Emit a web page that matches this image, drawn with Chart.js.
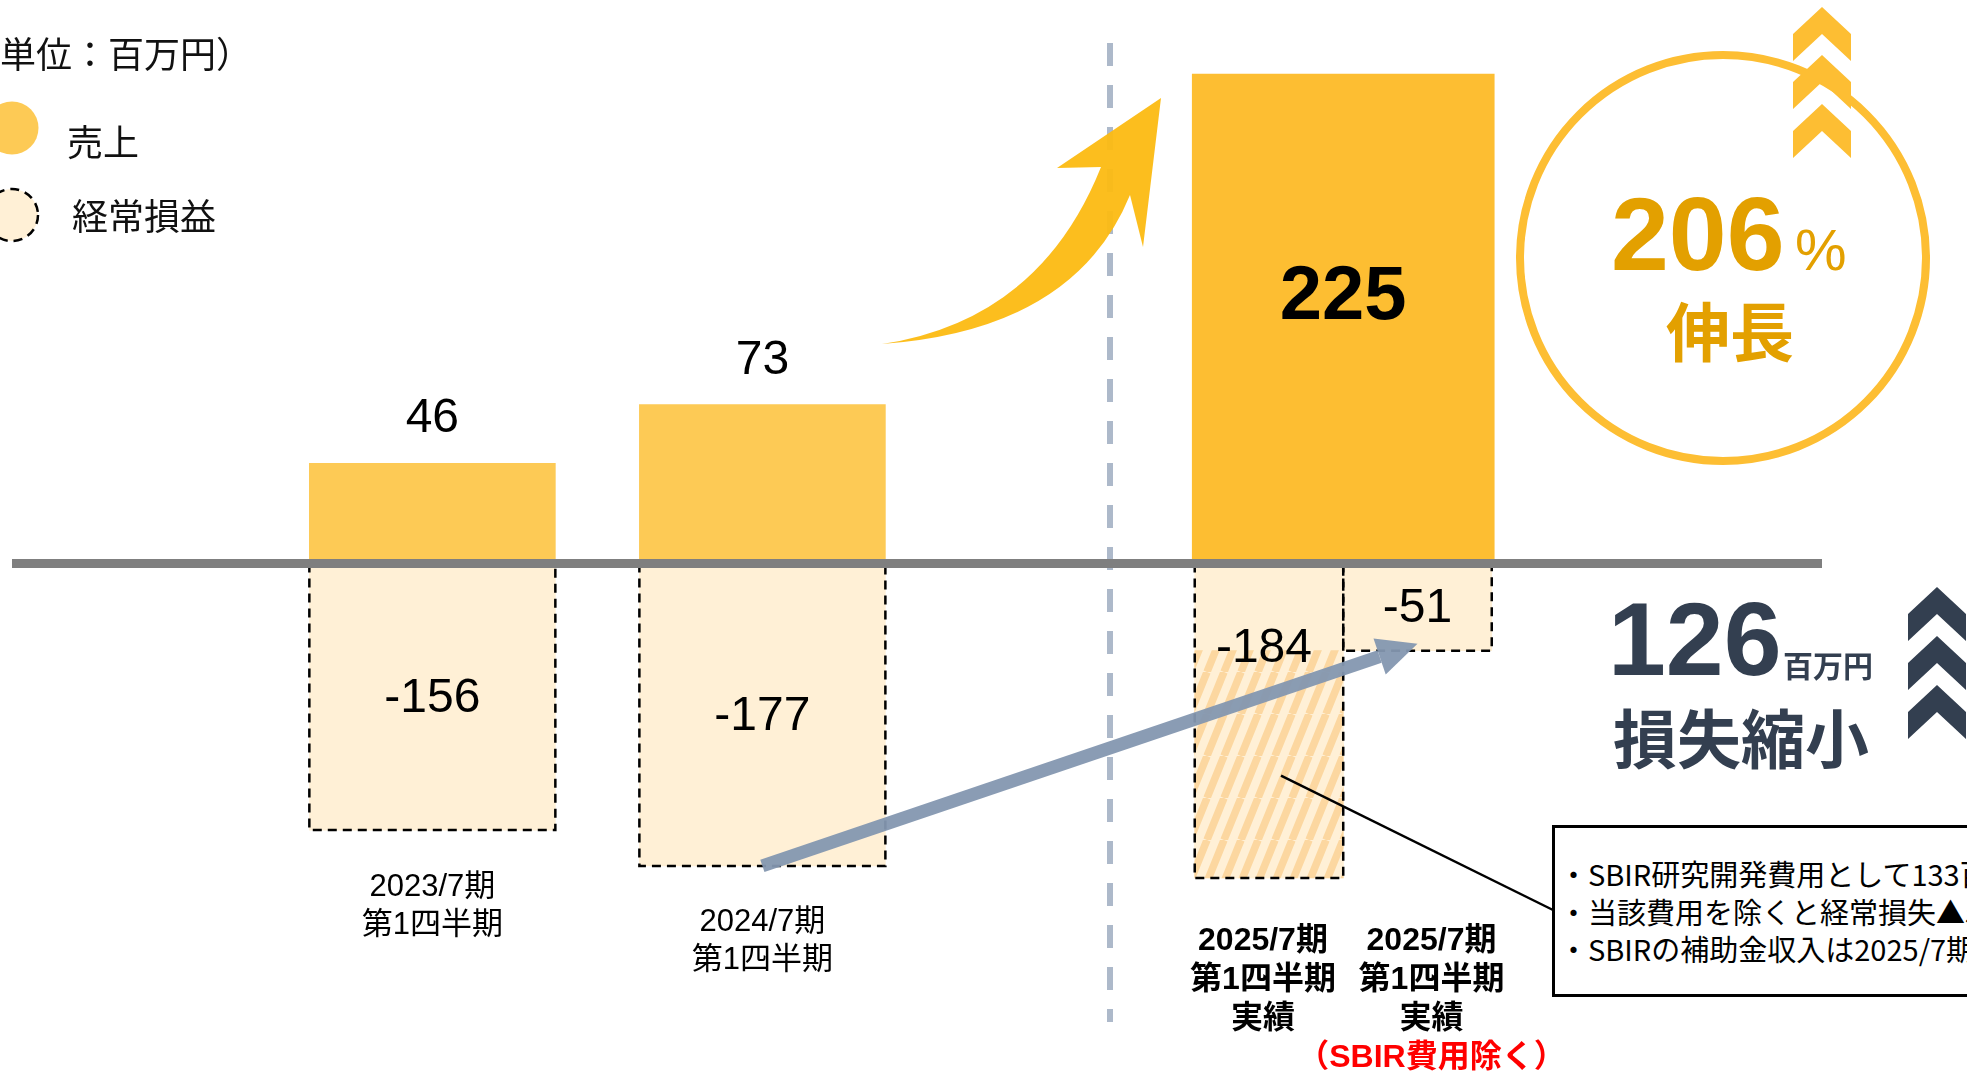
<!DOCTYPE html>
<html lang="ja">
<head>
<meta charset="utf-8">
<title>売上・経常損益</title>
<script src="https://cdn.jsdelivr.net/npm/chart.js@4.4.1/dist/chart.umd.min.js"></script>
<style>
  html, body { margin: 0; padding: 0; background: #fff; overflow: hidden; }
  #stage { position: relative; width: 1967px; height: 1071px; overflow: hidden;
           font-family: 'Noto Sans CJK JP', sans-serif; color: #111; }
  #deco, #chartBox { position: absolute; left: 0; top: 0; }
  #chartBox { width: 1967px; height: 1071px; }
  .t { position: absolute; white-space: nowrap; line-height: 1; }
  .num { font-family: 'Liberation Sans', Arial, sans-serif; }
  .gold { color: #E3A000; font-weight: bold; }
  .navy { color: #333F50; font-weight: bold; }
  #note { position: absolute; left: 1552px; top: 825px; width: 620px; height: 172px;
          box-sizing: border-box; border: 3px solid #000; background: #fff;
          padding: 27px 0 0 4px; font-size: 29px; line-height: 37.5px; color: #000; white-space: nowrap; }
</style>
</head>
<body>
<div id="stage">
  <svg id="deco" width="1967" height="1071">
    <!-- period divider -->
    <line x1="1110" y1="43" x2="1110" y2="1022" stroke="#ADB9CA" stroke-width="6" stroke-dasharray="23 19"/>
    <!-- growth arrow -->
    <path d="M882 344 Q1040 320 1101 167 L1057 168 L1161 98 L1143 247 L1130 195 Q1075 330 882 344 Z"
          fill="#FCBA12" opacity="0.95"/>
    <!-- growth badge -->
    <circle cx="1723" cy="258" r="203" fill="none" stroke="#FDBE33" stroke-width="8"/>
    <g fill="#FDBE33">
      <polygon points="1822,7 1851,34 1851,61 1822,34 1793,61 1793,34"/>
      <polygon points="1822,55 1851,82 1851,109 1822,82 1793,109 1793,82"/>
      <polygon points="1822,104 1851,131 1851,158 1822,131 1793,158 1793,131"/>
    </g>
    <g fill="#333F50">
      <polygon points="1937,587 1966,614 1966,641 1937,614 1908,641 1908,614"/>
      <polygon points="1937,636 1966,663 1966,690 1937,663 1908,690 1908,663"/>
      <polygon points="1937,685 1966,712 1966,739 1937,712 1908,739 1908,712"/>
    </g>
    <!-- legend markers -->
    <circle cx="12" cy="128" r="26.5" fill="#FDCA55"/>
    <circle cx="12" cy="215" r="26" fill="#FFF0D6" stroke="#000" stroke-width="2.5" stroke-dasharray="9 6"/>
  </svg>

  <div id="chartBox"><canvas id="plChart"></canvas></div>

  <div class="t" style="left:-36px; top:34px; font-size:36px;">（単位：百万円）</div>
  <div class="t" style="left:67px; top:122px; font-size:36px;">売上</div>
  <div class="t" style="left:72px; top:196px; font-size:36px;">経常損益</div>

  <div class="t num gold" style="left:1611px; top:182px; font-size:104px;">206</div>
  <div class="t num" style="left:1795px; top:221px; font-size:58px; color:#E3A000;">%</div>
  <div class="t gold" style="left:1666px; top:296px; font-size:64px;">伸長</div>

  <div class="t num navy" style="left:1608px; top:587px; font-size:104px;">126</div>
  <div class="t navy" style="left:1783px; top:649px; font-size:30px;">百万円</div>
  <div class="t navy" style="left:1613px; top:703px; font-size:64px;">損失縮小</div>

  <div id="note">
    <div>・SBIR研究開発費用として133百万円を計上</div>
    <div>・当該費用を除くと経常損失▲51百万円</div>
    <div>・SBIRの補助金収入は2025/7期第2四半期以降に計上予定</div>
  </div>
</div>

<script>
// 期間ラベル
const periodLabels = [
    ['2023/7期', '第1四半期'],
    ['2024/7期', '第1四半期'],
    ['2025/7期', '第1四半期', '実績'],
    ['2025/7期', '第1四半期', '実績', '（SBIR費用除く）']
];
const sales = [46, 73, 225];              // 売上
const ordinaryProfit = [-156, -177, -184]; // 経常損益
const profitExSbir = [-51];               // 経常損益（SBIR費用除く）
const sbirCost = [133];                   // SBIR研究開発費用

// layout: column positions on the x scale
const colX = [0, 2, 5.07, 5.97];
const labelShift = [0, 0, -6, 14];
const zeroAt = 563.5 / 1071;   // where the zero line sits, from the top

const SALES = '#FDCA55';
const SALES_NOW = '#FDBE32';
const LOSS = '#FFF0D6';
const FONT = "'Liberation Sans', Arial, 'Noto Sans CJK JP', sans-serif";

function makeHatch() {
    const c = document.createElement('canvas');
    const w = 17, h = 42;
    c.width = w; c.height = h;
    const g = c.getContext('2d');
    g.fillStyle = LOSS;
    g.fillRect(0, 0, w, h);
    g.strokeStyle = '#FCD7A0';
    g.lineWidth = 7.5;
    [-w, 0, w].forEach(function(o) {
        g.beginPath();
        g.moveTo(o, h);
        g.lineTo(o + w, 0);
        g.stroke();
    });
    return g.createPattern(c, 'repeat');
}

const decorations = {
    id: 'decorations',
    afterDatasetsDraw(chart) {
        const ctx = chart.ctx;
        const xs = chart.scales.x, ys = chart.scales.ySales, yl = chart.scales.yLoss;

        // dashed outlines on the loss bars
        ctx.save();
        ctx.setLineDash([9, 6]);
        ctx.lineWidth = 2.5;
        ctx.strokeStyle = '#000';
        [2, 3].forEach(function(di) {
            chart.getDatasetMeta(di).data.forEach(function(el) {
                const l = el.x - el.width / 2, r = el.x + el.width / 2;
                ctx.beginPath();
                ctx.moveTo(l, el.base);
                ctx.lineTo(l, el.y);
                ctx.lineTo(r, el.y);
                ctx.lineTo(r, el.base);
                ctx.stroke();
            });
        });
        ctx.restore();

        // zero line
        const y0 = ys.getPixelForValue(0);
        ctx.fillStyle = '#7F7F7F';
        ctx.fillRect(12, y0 - 4.5, 1810, 9);

        // value labels
        ctx.save();
        ctx.fillStyle = '#000';
        ctx.textAlign = 'center';
        ctx.font = '48px ' + FONT;
        ctx.textBaseline = 'alphabetic';
        chart.getDatasetMeta(0).data.forEach(function(el, i) {
            ctx.fillText(String(sales[i]), el.x, el.y - 31);
        });
        const big = chart.getDatasetMeta(1).data[0];
        ctx.font = 'bold 76px ' + FONT;
        ctx.textBaseline = 'middle';
        ctx.fillText(String(sales[2]), big.x, big.y + (big.base - big.y) * 0.457);

        ctx.font = '48px ' + FONT;
        chart.getDatasetMeta(2).data.forEach(function(el, i) {
            ctx.fillText(String(ordinaryProfit[i]), el.x, (el.y + el.base) / 2 + 2);
        });
        const pair = chart.getDatasetMeta(3).data;
        const hatchTop = yl.getPixelForValue(profitExSbir[0]);
        ctx.fillText(String(ordinaryProfit[2]), pair[0].x - 5, hatchTop - 2);
        ctx.fillText(String(profitExSbir[0]), pair[1].x, (pair[1].y + pair[1].base) / 2 + 2);

        // period labels under the bars
        const lowest = [ordinaryProfit[0], ordinaryProfit[1],
            Math.min(ordinaryProfit[2], profitExSbir[0]), Math.min(ordinaryProfit[2], profitExSbir[0])];
        periodLabels.forEach(function(lines, i) {
            const bold = i >= 2;
            const x = xs.getPixelForValue(colX[i]) + labelShift[i];
            const top = yl.getPixelForValue(lowest[i]) + (bold ? 63 : 57);
            lines.forEach(function(s, k) {
                ctx.fillStyle = s.charAt(0) === '（' ? '#FF0000' : '#000';
                ctx.font = (bold ? 'bold 32px ' : '31px ') + FONT;
                ctx.fillText(s, x, top + k * (bold ? 39 : 38));
            });
        });
        ctx.restore();

        // loss reduction arrow
        const p0 = { x: xs.getPixelForValue(colX[1]), y: yl.getPixelForValue(ordinaryProfit[1]) };
        const p1 = { x: xs.getPixelForValue(colX[3]), y: yl.getPixelForValue(profitExSbir[0]) - 7 };
        const a = Math.atan2(p1.y - p0.y, p1.x - p0.x);
        const headLen = 40, headHalf = 19;
        const bx = p1.x - headLen * Math.cos(a), by = p1.y - headLen * Math.sin(a);
        ctx.save();
        ctx.globalAlpha = 0.95;
        ctx.strokeStyle = '#8497B0';
        ctx.fillStyle = '#8497B0';
        ctx.lineWidth = 13;
        ctx.beginPath();
        ctx.moveTo(p0.x, p0.y);
        ctx.lineTo(bx, by);
        ctx.stroke();
        ctx.beginPath();
        ctx.moveTo(p1.x, p1.y);
        ctx.lineTo(bx + headHalf * Math.sin(a), by - headHalf * Math.cos(a));
        ctx.lineTo(bx - headHalf * Math.sin(a), by + headHalf * Math.cos(a));
        ctx.closePath();
        ctx.fill();
        ctx.restore();

        // leader line to the note box
        const hatchBottom = yl.getPixelForValue(ordinaryProfit[2]);
        ctx.save();
        ctx.strokeStyle = '#000';
        ctx.lineWidth = 2.5;
        ctx.beginPath();
        ctx.moveTo(pair[0].x + 12, hatchTop + (hatchBottom - hatchTop) * 0.55);
        ctx.lineTo(1553, 910);
        ctx.stroke();
        ctx.restore();
    }
};

document.addEventListener('DOMContentLoaded', function() {
    const salesMax = 259;
    const lossMin = -297;
    const ctx = document.getElementById('plChart').getContext('2d');
    new Chart(ctx, {
        type: 'bar',
        data: {
            datasets: [
                {
                    label: '売上',
                    data: [0, 1].map(i => ({ x: colX[i], y: sales[i] })),
                    yAxisID: 'ySales',
                    backgroundColor: SALES,
                    barThickness: 246,
                    order: 1
                },
                {
                    label: '売上',
                    data: [{ x: (colX[2] + colX[3]) / 2, y: sales[2] }],
                    yAxisID: 'ySales',
                    backgroundColor: SALES_NOW,
                    barThickness: 302,
                    order: 1
                },
                {
                    label: '経常損益',
                    data: [0, 1].map(i => ({ x: colX[i], y: ordinaryProfit[i] })),
                    yAxisID: 'yLoss',
                    backgroundColor: LOSS,
                    barThickness: 246,
                    order: 1
                },
                {
                    label: '経常損益',
                    data: [
                        { x: colX[2], y: ordinaryProfit[2] },
                        { x: colX[3], y: profitExSbir[0] }
                    ],
                    yAxisID: 'yLoss',
                    backgroundColor: LOSS,
                    barThickness: 148.5,
                    order: 1
                },
                {
                    label: 'SBIR研究開発費用',
                    data: [{ x: colX[2], y: [profitExSbir[0], profitExSbir[0] - sbirCost[0]] }],
                    yAxisID: 'yLoss',
                    backgroundColor: makeHatch(),
                    barThickness: 148.5,
                    order: 0
                }
            ]
        },
        options: {
            responsive: true,
            maintainAspectRatio: false,
            animation: false,
            layout: { padding: 0 },
            datasets: { bar: { grouped: false, borderWidth: 0 } },
            plugins: {
                legend: { display: false },
                tooltip: { enabled: false }
            },
            scales: {
                x: { type: 'linear', min: -2.62, max: 9.3, offset: false, display: false },
                ySales: {
                    type: 'linear', position: 'left', display: false,
                    max: salesMax, min: -salesMax * (1 - zeroAt) / zeroAt
                },
                yLoss: {
                    type: 'linear', position: 'right', display: false,
                    min: lossMin, max: -lossMin * zeroAt / (1 - zeroAt)
                }
            }
        },
        plugins: [decorations]
    });
});
</script>
</body>
</html>
